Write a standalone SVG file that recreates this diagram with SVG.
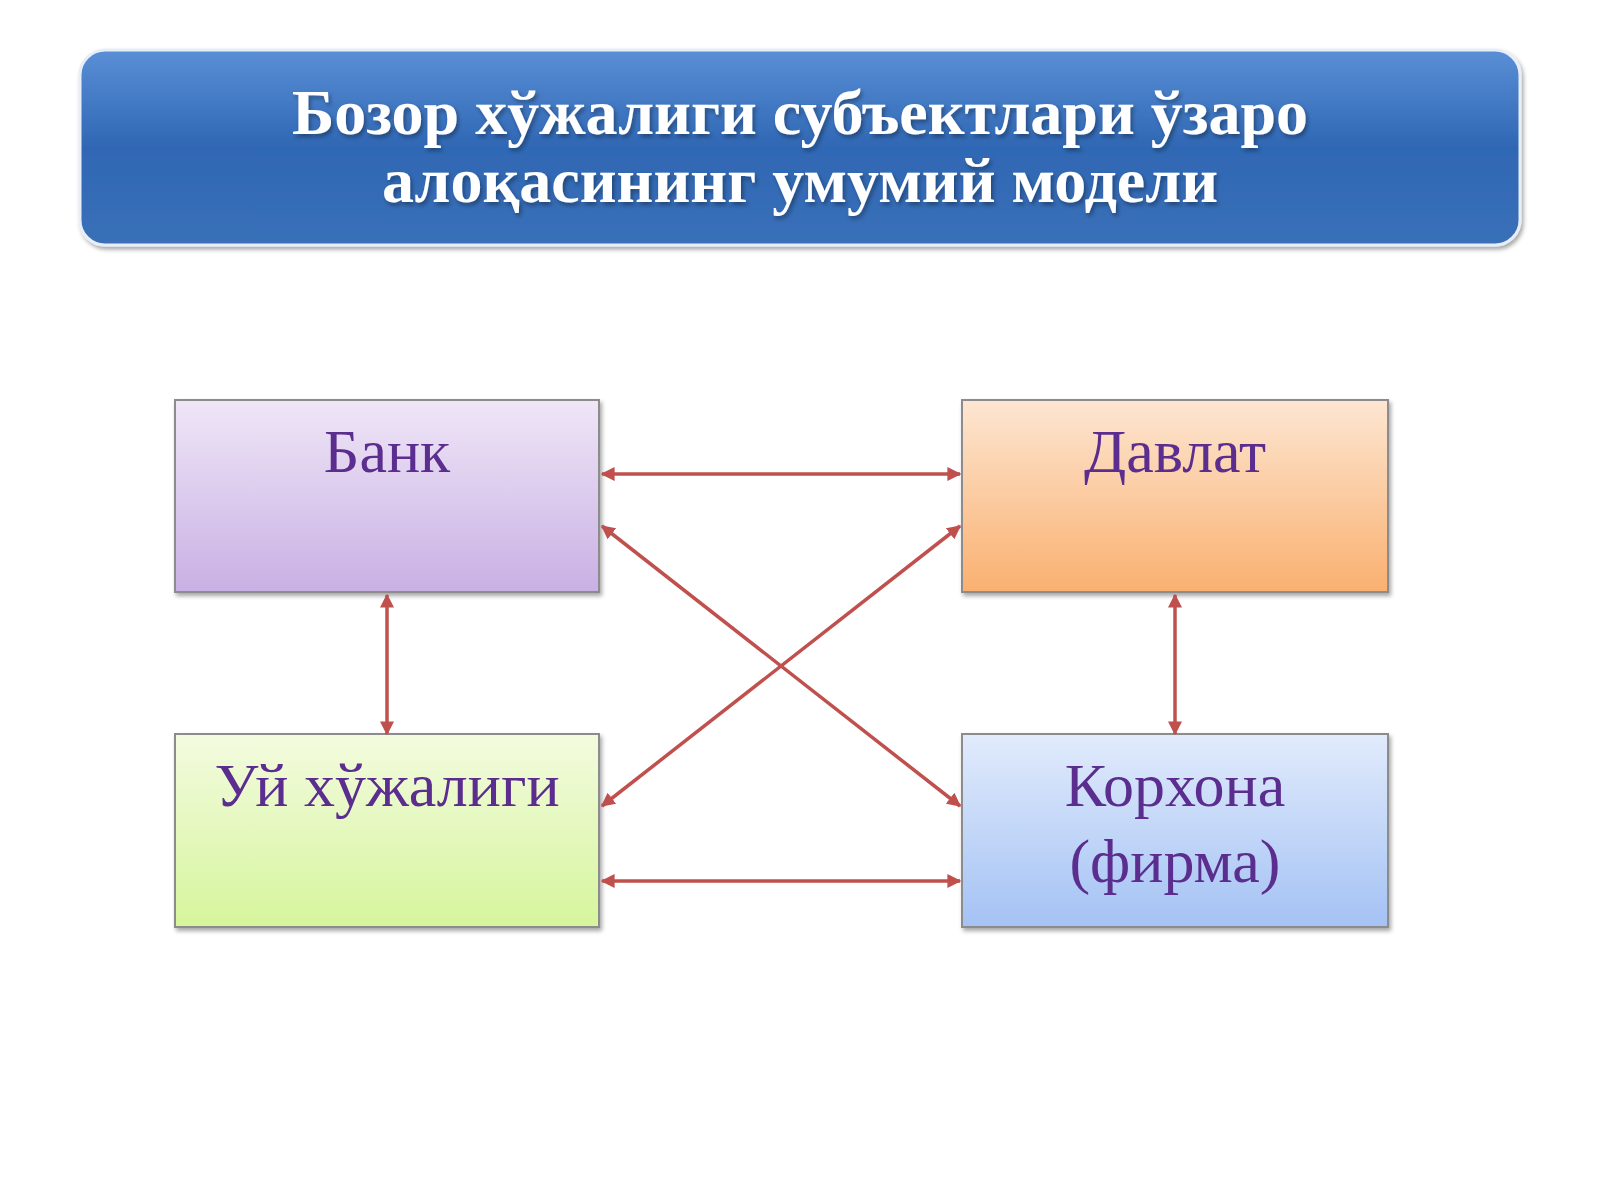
<svg xmlns="http://www.w3.org/2000/svg" width="1600" height="1200" viewBox="0 0 1600 1200">
<defs>
<linearGradient id="gt" x1="0" y1="0" x2="0" y2="1"><stop offset="0" stop-color="#5a8fd6"/><stop offset="0.5" stop-color="#2f67b4"/><stop offset="1" stop-color="#3a70b8"/></linearGradient>
<linearGradient id="gb" x1="0" y1="0" x2="0" y2="1"><stop offset="0" stop-color="#efe6f7"/><stop offset="1" stop-color="#c9b0e4"/></linearGradient>
<linearGradient id="gd" x1="0" y1="0" x2="0" y2="1"><stop offset="0" stop-color="#fde6d2"/><stop offset="1" stop-color="#fab070"/></linearGradient>
<linearGradient id="gu" x1="0" y1="0" x2="0" y2="1"><stop offset="0" stop-color="#f3fbdf"/><stop offset="1" stop-color="#d6f59c"/></linearGradient>
<linearGradient id="gk" x1="0" y1="0" x2="0" y2="1"><stop offset="0" stop-color="#e1ebfc"/><stop offset="1" stop-color="#a4c2f4"/></linearGradient>
<marker id="ah" viewBox="0 0 10 10" refX="9" refY="5" markerWidth="4" markerHeight="4" orient="auto-start-reverse"><path d="M0,0 L10,5 L0,10 z" fill="#c0504d"/></marker>
<filter id="sh"><feDropShadow dx="2" dy="3" stdDeviation="2" flood-opacity="0.35"/></filter>
</defs>
<style>
.n{stroke:#8c8c8c;stroke-width:2;filter:url(#sh)}
.t{font-family:"Liberation Serif",serif;font-size:62px;fill:#5b2d8e;text-anchor:middle}
.c{stroke:#c0504d;stroke-width:3.5;fill:none;marker-start:url(#ah);marker-end:url(#ah)}
</style>
<rect width="1600" height="1200" fill="#ffffff"/>
<g id="title">
<rect x="80" y="50" width="1440" height="195" rx="25" fill="url(#gt)" stroke="#e8eef8" stroke-width="3" filter="url(#sh)"/>
<text x="800" y="134" font-family="Liberation Serif,serif" font-weight="bold" font-size="64" fill="#ffffff" text-anchor="middle" filter="url(#sh)">Бозор хўжалиги субъектлари ўзаро</text>
<text x="800" y="202" font-family="Liberation Serif,serif" font-weight="bold" font-size="64" fill="#ffffff" text-anchor="middle" filter="url(#sh)">алоқасининг умумий модели</text>
</g>
<g id="bank"><rect class="n" x="175" y="400" width="424" height="192" fill="url(#gb)"/><text class="t" x="387" y="472">Банк</text></g>
<g id="davlat"><rect class="n" x="962" y="400" width="426" height="192" fill="url(#gd)"/><text class="t" x="1175" y="472">Давлат</text></g>
<g id="uy"><rect class="n" x="175" y="734" width="424" height="193" fill="url(#gu)"/><text class="t" x="387" y="806">Уй хўжалиги</text></g>
<g id="korxona"><rect class="n" x="962" y="734" width="426" height="193" fill="url(#gk)"/><text class="t" x="1175" y="806">Корхона</text><text class="t" x="1175" y="882">(фирма)</text></g>
<g id="connectors">
<line class="c" x1="602" y1="474" x2="960" y2="474"/>
<line class="c" x1="602" y1="881" x2="960" y2="881"/>
<line class="c" x1="387" y1="595" x2="387" y2="734"/>
<line class="c" x1="1175" y1="595" x2="1175" y2="734"/>
<line class="c" x1="602" y1="526" x2="960" y2="806"/>
<line class="c" x1="602" y1="806" x2="960" y2="526"/>
</g>
</svg>
